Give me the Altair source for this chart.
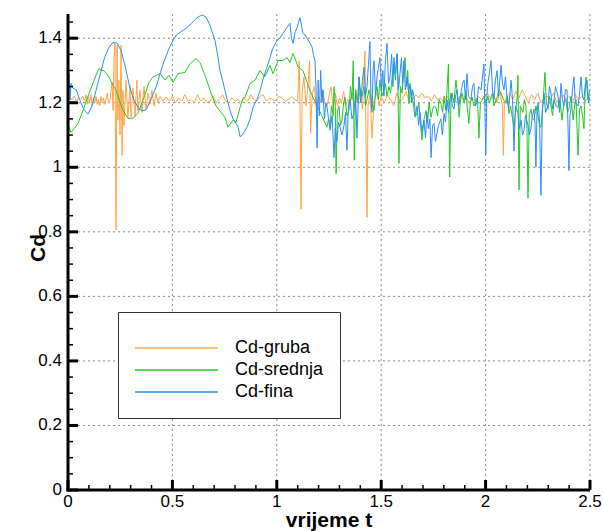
import altair as alt
import pandas as pd

# ---------------- data ----------------
gruba_t = [0.000, 0.010, 0.020, 0.030, 0.040, 0.050, 0.060, 0.070, 0.080, 0.086, 0.092, 0.098, 0.104, 0.110,
           0.116, 0.122, 0.128, 0.134, 0.140, 0.146, 0.152, 0.158, 0.164, 0.170, 0.176, 0.182, 0.188, 0.194,
           0.201, 0.211, 0.216, 0.220, 0.225, 0.230, 0.235, 0.239, 0.244, 0.249, 0.254, 0.259, 0.263, 0.268,
           0.278, 0.287, 0.297, 0.302, 0.311, 0.321, 0.330, 0.335, 0.345, 0.354, 0.364, 0.374, 0.383, 0.393,
           0.402, 0.412, 0.421, 0.431, 0.441, 0.455, 0.469, 0.485, 0.500, 0.515, 0.530, 0.545, 0.560, 0.575,
           0.590, 0.605, 0.620, 0.635, 0.650, 0.665, 0.680, 0.695, 0.710, 0.725, 0.740, 0.755, 0.770, 0.785,
           0.800, 0.815, 0.830, 0.845, 0.860, 0.875, 0.890, 0.905, 0.920, 0.935, 0.950, 0.965, 0.980, 0.995,
           1.010, 1.025, 1.040, 1.055, 1.070, 1.085, 1.100, 1.107, 1.111, 1.116, 1.121, 1.130, 1.140, 1.150,
           1.157, 1.162, 1.170, 1.180, 1.190, 1.200, 1.210, 1.220, 1.230, 1.240, 1.250, 1.260, 1.270, 1.280,
           1.290, 1.300, 1.310, 1.320, 1.330, 1.340, 1.350, 1.360, 1.370, 1.380, 1.390, 1.400, 1.410, 1.422,
           1.432, 1.437, 1.447, 1.456, 1.466, 1.480, 1.490, 1.500, 1.515, 1.530, 1.545, 1.560, 1.575, 1.590,
           1.605, 1.620, 1.635, 1.650, 1.665, 1.680, 1.695, 1.710, 1.725, 1.740, 1.755, 1.770, 1.785, 1.800,
           1.815, 1.830, 1.845, 1.860, 1.875, 1.890, 1.905, 1.920, 1.935, 1.950, 1.965, 1.980, 1.995, 2.010,
           2.025, 2.040, 2.055, 2.070, 2.080, 2.085, 2.090, 2.100, 2.115, 2.130, 2.145, 2.160, 2.175, 2.190,
           2.205, 2.220, 2.235, 2.250, 2.265, 2.280, 2.295, 2.310, 2.325, 2.340, 2.355, 2.370, 2.385, 2.400,
           2.415, 2.430, 2.445, 2.460, 2.475, 2.490, 2.500]
gruba_cd = [1.205, 1.215, 1.210, 1.220, 1.205, 1.215, 1.210, 1.220, 1.205, 1.225, 1.195, 1.220, 1.200, 1.225,
            1.190, 1.215, 1.200, 1.220, 1.195, 1.210, 1.190, 1.220, 1.200, 1.215, 1.195, 1.210, 1.230, 1.200,
            1.207, 1.263, 1.176, 1.330, 1.384, 0.805, 1.378, 1.146, 1.270, 1.100, 1.378, 1.037, 1.238, 1.130,
            1.270, 1.152, 1.254, 1.155, 1.245, 1.160, 1.270, 1.176, 1.238, 1.170, 1.250, 1.180, 1.230, 1.195,
            1.238, 1.190, 1.230, 1.200, 1.220, 1.205, 1.218, 1.205, 1.220, 1.200, 1.215, 1.205, 1.225, 1.205,
            1.210, 1.200, 1.225, 1.205, 1.215, 1.200, 1.205, 1.220, 1.200, 1.210, 1.225, 1.205, 1.200, 1.215,
            1.205, 1.210, 1.200, 1.215, 1.205, 1.225, 1.210, 1.205, 1.220, 1.225, 1.205, 1.215, 1.210, 1.205,
            1.220, 1.215, 1.205, 1.210, 1.218, 1.210, 1.205, 1.330, 1.200, 0.870, 1.230, 1.280, 1.190, 1.260,
            1.330, 1.105, 1.230, 1.250, 1.180, 1.220, 1.200, 1.240, 1.200, 1.190, 1.220, 1.250, 1.180, 1.230,
            1.190, 1.215, 1.200, 1.235, 1.190, 1.210, 1.200, 1.230, 1.190, 1.220, 1.200, 1.240, 1.180, 1.360,
            0.845, 1.190, 1.230, 1.090, 1.210, 1.230, 1.190, 1.220, 1.200, 1.225, 1.210, 1.190, 1.230, 1.200,
            1.215, 1.235, 1.200, 1.210, 1.225, 1.215, 1.230, 1.215, 1.220, 1.205, 1.225, 1.210, 1.215, 1.200,
            1.220, 1.205, 1.215, 1.200, 1.220, 1.210, 1.225, 1.200, 1.215, 1.205, 1.220, 1.210, 1.215, 1.230,
            1.210, 1.220, 1.200, 1.235, 1.190, 1.037, 1.200, 1.220, 1.230, 1.210, 1.235, 1.215, 1.240, 1.220,
            1.200, 1.225, 1.210, 1.230, 1.200, 1.215, 1.220, 1.210, 1.230, 1.200, 1.215, 1.225, 1.210, 1.220,
            1.200, 1.225, 1.210, 1.220, 1.205, 1.215, 1.210]

srednja_t = [0.000, 0.005, 0.014, 0.030, 0.048, 0.072, 0.090, 0.101, 0.125, 0.140, 0.148, 0.160, 0.172, 0.185,
             0.196, 0.215, 0.230, 0.263, 0.287, 0.311, 0.335, 0.364, 0.388, 0.407, 0.441, 0.465, 0.484, 0.503,
             0.527, 0.560, 0.584, 0.613, 0.632, 0.661, 0.685, 0.709, 0.733, 0.752, 0.766, 0.790, 0.805, 0.824,
             0.838, 0.848, 0.872, 0.896, 0.920, 0.943, 0.967, 0.982, 1.006, 1.030, 1.049, 1.063, 1.078, 1.102,
             1.125, 1.145, 1.159, 1.173, 1.197, 1.221, 1.240, 1.248, 1.255, 1.262, 1.270, 1.274, 1.280, 1.284,
             1.290, 1.298, 1.305, 1.312, 1.320, 1.327, 1.336, 1.346, 1.353, 1.360, 1.366, 1.371, 1.378, 1.386,
             1.394, 1.401, 1.408, 1.418, 1.425, 1.432, 1.442, 1.449, 1.456, 1.466, 1.473, 1.480, 1.487, 1.494,
             1.503, 1.513, 1.520, 1.528, 1.537, 1.545, 1.552, 1.561, 1.568, 1.576, 1.581, 1.585, 1.592, 1.600,
             1.607, 1.614, 1.621, 1.627, 1.633, 1.640, 1.648, 1.655, 1.662, 1.672, 1.680, 1.687, 1.695, 1.705,
             1.715, 1.722, 1.729, 1.739, 1.746, 1.753, 1.762, 1.770, 1.777, 1.786, 1.794, 1.801, 1.810, 1.816,
             1.822, 1.828, 1.834, 1.839, 1.848, 1.858, 1.866, 1.873, 1.880, 1.887, 1.897, 1.906, 1.913, 1.920,
             1.927, 1.935, 1.944, 1.954, 1.961, 1.968, 1.975, 1.983, 1.992, 2.001, 2.011, 2.018, 2.026, 2.033,
             2.040, 2.050, 2.057, 2.064, 2.074, 2.085, 2.098, 2.105, 2.112, 2.120, 2.129, 2.136, 2.145, 2.152,
             2.155, 2.160, 2.166, 2.179, 2.186, 2.193, 2.198, 2.203, 2.209, 2.217, 2.225, 2.232, 2.241, 2.251,
             2.258, 2.265, 2.275, 2.284, 2.291, 2.299, 2.306, 2.313, 2.321, 2.328, 2.337, 2.347, 2.356, 2.366,
             2.375, 2.385, 2.392, 2.399, 2.409, 2.419, 2.426, 2.433, 2.438, 2.443, 2.450, 2.457, 2.464, 2.471,
             2.476, 2.481, 2.490, 2.500]
srednja_cd = [1.130, 1.125, 1.108, 1.120, 1.136, 1.176, 1.210, 1.229, 1.270, 1.295, 1.306, 1.300, 1.300, 1.290,
              1.280, 1.255, 1.238, 1.176, 1.152, 1.152, 1.167, 1.217, 1.263, 1.280, 1.290, 1.270, 1.285, 1.263,
              1.290, 1.294, 1.320, 1.337, 1.325, 1.276, 1.230, 1.190, 1.170, 1.155, 1.124, 1.146, 1.140, 1.186,
              1.214, 1.217, 1.260, 1.270, 1.300, 1.280, 1.316, 1.290, 1.331, 1.331, 1.340, 1.325, 1.353, 1.310,
              1.300, 1.263, 1.238, 1.217, 1.186, 1.152, 1.124, 1.150, 1.130, 1.190, 1.160, 1.250, 1.200, 0.980,
              1.170, 1.190, 1.130, 1.146, 1.200, 1.217, 1.160, 1.176, 1.250, 1.210, 1.330, 1.022, 1.240, 1.200,
              1.280, 1.230, 1.220, 1.250, 1.190, 1.210, 1.240, 1.220, 1.200, 1.176, 1.230, 1.250, 1.210, 1.270,
              1.220, 1.238, 1.260, 1.220, 1.250, 1.230, 1.280, 1.320, 1.270, 1.353, 1.220, 1.012, 1.250, 1.230,
              1.290, 1.340, 1.250, 1.300, 1.198, 1.250, 1.217, 1.190, 1.155, 1.167, 1.200, 1.146, 1.084, 1.150,
              1.176, 1.140, 1.200, 1.155, 1.180, 1.190, 1.186, 1.160, 1.210, 1.198, 1.170, 1.220, 1.176, 1.250,
              1.320, 0.970, 1.200, 1.230, 1.200, 1.270, 1.220, 1.155, 1.210, 1.230, 1.200, 1.238, 1.180, 1.136,
              1.200, 1.217, 1.190, 1.198, 1.220, 1.090, 1.200, 1.207, 1.220, 1.198, 1.220, 1.200, 1.217, 1.230,
              1.190, 1.207, 1.220, 1.240, 1.230, 1.210, 1.198, 1.220, 1.167, 1.190, 1.150, 1.124, 1.180, 1.220,
              1.285, 0.930, 1.190, 1.170, 1.210, 1.190, 1.120, 0.905, 1.160, 1.180, 1.150, 1.146, 1.190, 1.160,
              1.130, 1.124, 1.200, 1.294, 1.200, 1.180, 1.220, 1.190, 1.160, 1.210, 1.190, 1.186, 1.210, 1.146,
              1.200, 1.210, 1.170, 1.180, 1.220, 1.146, 1.190, 1.210, 1.120, 1.037, 1.180, 1.190, 1.160, 1.120,
              1.220, 1.280, 1.210, 1.240]

fina_t = [0.000, 0.005, 0.010, 0.014, 0.024, 0.040, 0.055, 0.075, 0.096, 0.115, 0.135, 0.155, 0.175, 0.195,
          0.215, 0.235, 0.255, 0.275, 0.295, 0.315, 0.335, 0.355, 0.374, 0.390, 0.407, 0.425, 0.441, 0.455,
          0.470, 0.485, 0.503, 0.520, 0.540, 0.565, 0.590, 0.613, 0.630, 0.642, 0.661, 0.680, 0.704, 0.716,
          0.728, 0.742, 0.752, 0.766, 0.776, 0.790, 0.805, 0.815, 0.824, 0.835, 0.857, 0.872, 0.886, 0.905,
          0.920, 0.937, 0.953, 0.968, 0.977, 0.990, 1.001, 1.015, 1.030, 1.045, 1.063, 1.070, 1.078, 1.088,
          1.097, 1.111, 1.118, 1.125, 1.135, 1.145, 1.159, 1.169, 1.175, 1.183, 1.188, 1.193, 1.198, 1.204,
          1.210, 1.216, 1.221, 1.228, 1.235, 1.240, 1.255, 1.265, 1.274, 1.280, 1.288, 1.295, 1.303, 1.312,
          1.322, 1.329, 1.336, 1.343, 1.351, 1.360, 1.370, 1.377, 1.384, 1.394, 1.402, 1.410, 1.418, 1.425,
          1.432, 1.440, 1.446, 1.451, 1.456, 1.461, 1.466, 1.473, 1.480, 1.487, 1.494, 1.502, 1.508, 1.513,
          1.520, 1.528, 1.535, 1.542, 1.550, 1.556, 1.561, 1.568, 1.576, 1.583, 1.590, 1.597, 1.603, 1.609,
          1.616, 1.624, 1.631, 1.638, 1.645, 1.650, 1.657, 1.664, 1.672, 1.679, 1.686, 1.695, 1.705, 1.712,
          1.719, 1.726, 1.733, 1.739, 1.746, 1.753, 1.760, 1.767, 1.775, 1.786, 1.793, 1.801, 1.808, 1.815,
          1.822, 1.834, 1.841, 1.849, 1.856, 1.863, 1.870, 1.882, 1.890, 1.897, 1.904, 1.911, 1.918, 1.930,
          1.937, 1.944, 1.951, 1.959, 1.966, 1.978, 1.985, 1.992, 1.997, 2.001, 2.006, 2.011, 2.018, 2.026,
          2.033, 2.040, 2.047, 2.055, 2.062, 2.074, 2.081, 2.088, 2.095, 2.102, 2.110, 2.122, 2.129, 2.136,
          2.143, 2.155, 2.162, 2.170, 2.177, 2.184, 2.191, 2.203, 2.210, 2.217, 2.224, 2.232, 2.237, 2.241,
          2.246, 2.251, 2.258, 2.265, 2.272, 2.280, 2.287, 2.299, 2.306, 2.313, 2.320, 2.328, 2.335, 2.347,
          2.354, 2.361, 2.368, 2.375, 2.382, 2.390, 2.395, 2.399, 2.404, 2.409, 2.416, 2.423, 2.430, 2.443,
          2.450, 2.457, 2.464, 2.471, 2.478, 2.486, 2.493, 2.500]
fina_cd = [1.250, 1.290, 1.210, 1.260, 1.245, 1.240, 1.210, 1.180, 1.165, 1.190, 1.240, 1.290, 1.340, 1.370,
           1.387, 1.385, 1.360, 1.310, 1.250, 1.210, 1.185, 1.175, 1.178, 1.200, 1.225, 1.255, 1.290, 1.320,
           1.345, 1.370, 1.393, 1.410, 1.420, 1.430, 1.445, 1.461, 1.468, 1.472, 1.466, 1.440, 1.393, 1.350,
           1.300, 1.265, 1.238, 1.200, 1.176, 1.150, 1.136, 1.124, 1.095, 1.100, 1.124, 1.150, 1.186, 1.210,
           1.238, 1.280, 1.310, 1.340, 1.362, 1.380, 1.393, 1.400, 1.415, 1.430, 1.446, 1.400, 1.384, 1.420,
           1.433, 1.464, 1.440, 1.415, 1.410, 1.400, 1.385, 1.372, 1.350, 1.330, 1.240, 1.060, 1.270, 1.160,
           1.300, 1.200, 1.240, 1.150, 1.200, 1.190, 1.115, 1.160, 1.030, 1.120, 1.080, 1.140, 1.124, 1.100,
           1.130, 1.170, 1.053, 1.190, 1.210, 1.150, 1.170, 1.230, 1.090, 1.280, 1.200, 1.270, 1.310, 1.220,
           1.250, 1.330, 1.390, 1.210, 1.170, 1.300, 1.330, 1.220, 1.280, 1.310, 1.340, 1.240, 1.300, 1.220,
           1.330, 1.384, 1.260, 1.280, 1.350, 1.250, 1.340, 1.290, 1.350, 1.240, 1.290, 1.340, 1.260, 1.330,
           1.240, 1.280, 1.230, 1.260, 1.200, 1.240, 1.220, 1.160, 1.190, 1.130, 1.170, 1.110, 1.146, 1.090,
           1.170, 1.120, 1.150, 1.030, 1.130, 1.136, 1.080, 1.105, 1.130, 1.150, 1.100, 1.167, 1.140, 1.210,
           1.170, 1.230, 1.190, 1.180, 1.220, 1.240, 1.190, 1.230, 1.260, 1.270, 1.210, 1.290, 1.220, 1.210,
           1.250, 1.260, 1.190, 1.200, 1.250, 1.240, 1.280, 1.320, 1.170, 1.040, 1.220, 1.260, 1.290, 1.330,
           1.240, 1.210, 1.270, 1.300, 1.220, 1.316, 1.260, 1.240, 1.280, 1.220, 1.180, 1.270, 1.210, 1.050,
           1.190, 1.167, 1.120, 1.146, 1.100, 1.115, 1.160, 1.130, 1.100, 1.120, 1.160, 1.180, 1.130, 1.000,
           1.170, 1.200, 1.150, 0.913, 1.180, 1.230, 1.170, 1.190, 1.250, 1.230, 1.180, 1.210, 1.250, 1.220,
           1.170, 1.260, 1.210, 1.190, 1.240, 1.240, 1.120, 0.990, 1.160, 1.180, 1.240, 1.280, 1.200, 1.190,
           1.230, 1.280, 1.220, 1.210, 1.260, 1.270, 1.200, 1.220]

series_names = ["Cd-gruba", "Cd-srednja", "Cd-fina"]
series_colors = ["#FFA347", "#22C822", "#2A8CFF"]

x_major = [0, 0.5, 1, 1.5, 2, 2.5]
x_labels = ["0", "0.5", "1", "1.5", "2", "2.5"]
x_minor = [0.1, 0.2, 0.3, 0.4, 0.6, 0.7, 0.8, 0.9, 1.1, 1.2, 1.3, 1.4,
           1.6, 1.7, 1.8, 1.9, 2.1, 2.2, 2.3, 2.4]
y_major = [0, 0.2, 0.4, 0.6, 0.8, 1.0, 1.2, 1.4]
y_labels = ["0", "0.2", "0.4", "0.6", "0.8", "1", "1.2", "1.4"]
y_minor = [0.05, 0.1, 0.15, 0.25, 0.3, 0.35, 0.45, 0.5, 0.55, 0.65, 0.7, 0.75,
           0.85, 0.9, 0.95, 1.05, 1.1, 1.15, 1.25, 1.3, 1.35, 1.45]
x_title = "vrijeme t"
y_title = "Cd"

# ---------------- build tables ----------------
frames = []
for name, ts, cds in zip(series_names, [gruba_t, srednja_t, fina_t], [gruba_cd, srednja_cd, fina_cd]):
    frames.append(pd.DataFrame({"series": name, "t": ts, "cd": cds}))
df = pd.concat(frames, ignore_index=True)
xlab_df = pd.DataFrame({"t": x_major, "label": x_labels})
ylab_df = pd.DataFrame({"cd": y_major, "label": y_labels})
xmin_df = pd.DataFrame({"t": x_minor, "kind": "minor"})
ymin_df = pd.DataFrame({"cd": y_minor, "kind": "minor"})

W, H = 522, 476
FONT = "Liberation Sans"
xs = alt.Scale(domain=[0, 2.5], nice=False, zero=False)
ys = alt.Scale(domain=[0, 1.475], nice=False, zero=False)
X = alt.X("t:Q", scale=xs, axis=None)
Y = alt.Y("cd:Q", scale=ys, axis=None)

legend = alt.Legend(
    orient="none", legendX=50, legendY=298, title="\u00a0", titleFontSize=8, titlePadding=2,
    symbolType="stroke", symbolSize=6889, symbolStrokeWidth=1.3, clipHeight=20, rowPadding=2,
    labelOffset=16, labelFont=FONT, labelFontSize=18, labelColor="black", padding=16,
    strokeColor="#333333", fillColor="white",
)

# grid (dotted)
x_grid = alt.Chart(xlab_df).transform_filter(alt.datum.t > 0).mark_rule(
    color="#8a8a8a", strokeWidth=1, strokeDash=[2, 3]).encode(x=X, y=alt.value(0), y2=alt.value(H))
y_grid = alt.Chart(ylab_df).transform_filter(alt.datum.cd > 0).mark_rule(
    color="#8a8a8a", strokeWidth=1, strokeDash=[2, 3]).encode(y=Y, x=alt.value(0), x2=alt.value(W))

# data lines
base = alt.Chart(df).mark_line(strokeWidth=1, clip=True).encode(
    x=X, y=Y,
    color=alt.Color("series:N", scale=alt.Scale(domain=series_names, range=series_colors), legend=legend),
)
lines = [base.transform_filter(alt.datum.series == n) for n in series_names]

# inward-pointing ticks drawn as filled tick marks
x_major_ticks = alt.Chart(xlab_df).mark_tick(
    color="black", orient="vertical", thickness=3, size=10, opacity=1, filled=True).encode(
    x=X, y=alt.value(H - 5))
x_minor_ticks = alt.Chart(xmin_df).mark_tick(
    color="black", orient="vertical", thickness=1.5, size=5, opacity=1, filled=True).encode(
    x=X, y=alt.value(H - 2.5))
y_major_ticks = alt.Chart(ylab_df).mark_tick(
    color="black", orient="horizontal", thickness=3, size=10, opacity=1, filled=True).encode(
    y=Y, x=alt.value(5))
y_minor_ticks = alt.Chart(ymin_df).mark_tick(
    color="black", orient="horizontal", thickness=1.5, size=5, opacity=1, filled=True).encode(
    y=Y, x=alt.value(2.5))

# axis lines as filled rectangles
frame_df = pd.DataFrame({"part": ["x", "y"]})
x_domain = alt.Chart(frame_df).transform_filter(alt.datum.part == "x").mark_rect(
    color="black", opacity=1).encode(
    x=alt.value(-1.5), x2=alt.value(W), y=alt.value(H - 1.5), y2=alt.value(H + 1.5))
y_domain = alt.Chart(frame_df).transform_filter(alt.datum.part == "y").mark_rect(
    color="black", opacity=1).encode(
    x=alt.value(-1.5), x2=alt.value(1.5), y=alt.value(0), y2=alt.value(H + 1.5))

# tick labels and titles
x_tick_text = alt.Chart(xlab_df).mark_text(
    font=FONT, fontSize=17, color="black", align="center", baseline="top").encode(
    x=X, y=alt.value(H + 4), text="label:N")
y_tick_text = alt.Chart(ylab_df).mark_text(
    font=FONT, fontSize=17, color="black", align="right", baseline="middle").encode(
    y=Y, x=alt.value(-6), text="label:N")
x_title_text = alt.Chart(pd.DataFrame({"label": [x_title]})).mark_text(
    font=FONT, fontSize=21, fontWeight="bold", color="black", align="center", baseline="alphabetic").encode(
    x=alt.value(W / 2), y=alt.value(H + 37), text="label:N")
y_title_text = alt.Chart(pd.DataFrame({"label": [y_title]})).mark_text(
    font=FONT, fontSize=21, fontWeight="bold", color="black", align="center", baseline="middle",
    angle=270).encode(
    x=alt.value(-29), y=alt.value(234), text="label:N")

chart = alt.layer(
    x_grid, y_grid,
    *lines,
    x_tick_text, y_tick_text, x_title_text, y_title_text,
    x_minor_ticks, y_minor_ticks, x_major_ticks, y_major_ticks,
    x_domain, y_domain,
).properties(
    width=W, height=H,
    autosize=alt.AutoSizeParams(type="none"),
    padding={"left": 68, "top": 14, "right": 13, "bottom": 41},
    background="white",
).configure_view(stroke=None)

chart.save("out.html", embed_options={"renderer": "svg", "actions": False})
